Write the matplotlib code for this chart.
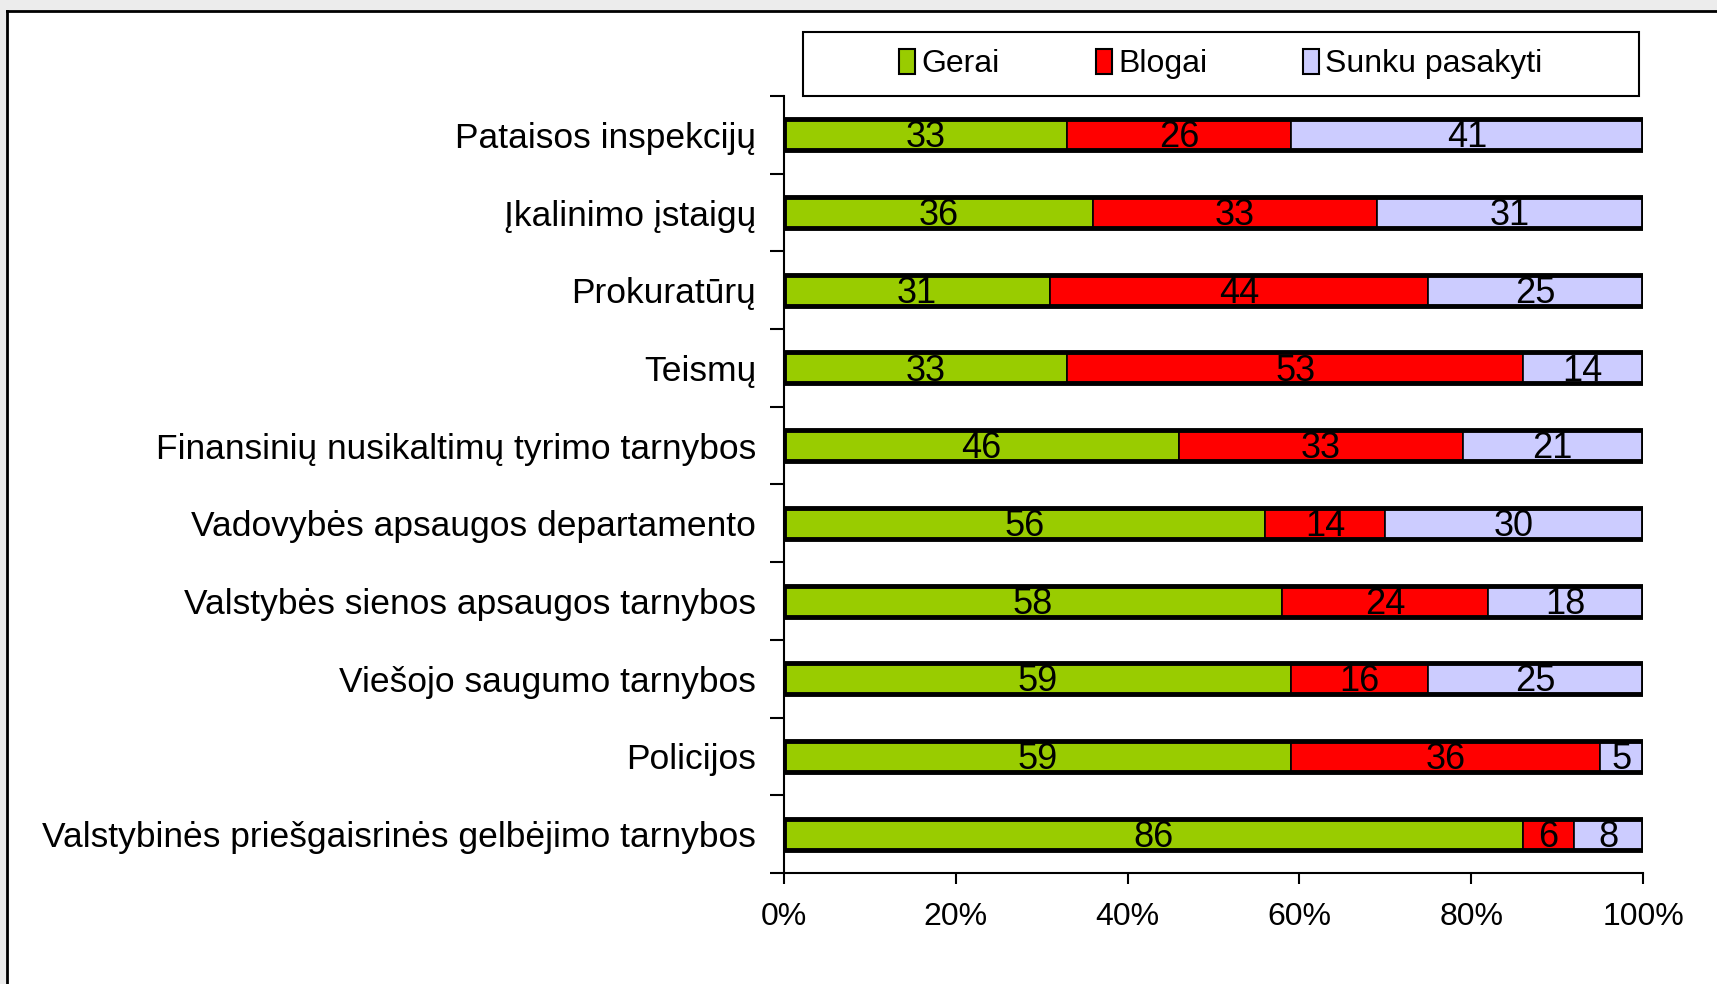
import matplotlib
matplotlib.use("Agg")
import matplotlib.pyplot as plt
from matplotlib.lines import Line2D
from matplotlib.patches import Rectangle, Patch
from matplotlib.ticker import FixedLocator, PercentFormatter
import numpy as np

categories = [
    "Pataisos inspekcijų",
    "Įkalinimo įstaigų",
    "Prokuratūrų",
    "Teismų",
    "Finansinių nusikaltimų tyrimo tarnybos",
    "Vadovybės apsaugos departamento",
    "Valstybės sienos apsaugos tarnybos",
    "Viešojo saugumo tarnybos",
    "Policijos",
    "Valstybinės priešgaisrinės gelbėjimo tarnybos",
]
gerai = [33, 36, 31, 33, 46, 56, 58, 59, 59, 86]
blogai = [26, 33, 44, 53, 33, 14, 24, 16, 36, 6]
sunku = [41, 31, 25, 14, 21, 30, 18, 25, 5, 8]
series_names = ["Gerai", "Blogai", "Sunku pasakyti"]
colors = ["#99cc00", "#ff0000", "#ccccff"]

plt.rcParams["font.family"] = ["Liberation Sans Narrow", "Liberation Sans", "DejaVu Sans"]

W, H = 1717, 984
fig = plt.figure(figsize=(W / 100, H / 100), dpi=100, facecolor="#ececec")

# белая "рамка" слайда с чёрной линией сверху и слева
fx, fy = 7 / W, 1 - 11 / H
fig.patches.append(Rectangle((fx, 0), 1 - fx, fy, transform=fig.transFigure,
                             facecolor="white", edgecolor="none", zorder=-5))
fig.lines.append(Line2D([fx, 1], [fy, fy], transform=fig.transFigure, color="black", lw=2, zorder=-4))
fig.lines.append(Line2D([fx, fx], [0, fy], transform=fig.transFigure, color="black", lw=2, zorder=-4))
# рамка легенды
fig.patches.append(Rectangle((803 / W, 888 / H), (1639 - 803) / W, 64 / H,
                             transform=fig.transFigure, facecolor="white",
                             edgecolor="black", linewidth=1.5, zorder=-3))

ax = fig.add_axes([784 / W, 111 / H, (1643 - 784) / W, (888 - 111) / H])
ax.set_facecolor("none")

y = np.arange(len(categories))
left = np.zeros(len(categories))
for vals, col in zip([gerai, blogai, sunku], colors):
    vals = np.array(vals)
    bars = ax.barh(y, vals, left=left, height=0.4, color=col,
                   edgecolor="black", linewidth=1.2, zorder=2)
    for b, v in zip(bars, vals):
        ax.text(b.get_x() + b.get_width() / 2, b.get_y() + b.get_height() / 2 + 0.04,
                str(v), ha="center", va="center", fontsize=26, color="black", zorder=4)
    left += vals
# общий толстый контур каждой полосы
ax.barh(y, left, height=0.4, fill=False, edgecolor="black", linewidth=3.5, zorder=3)

ax.set_ylim(len(categories) - 0.5, -0.5)
ax.set_xlim(0, 100)
ax.set_yticks(y)
ax.set_yticklabels(categories, fontsize=25.5)
ax.yaxis.set_minor_locator(FixedLocator(np.arange(-0.5, len(categories), 1)))
ax.tick_params(axis="y", which="major", length=0, pad=20)
ax.tick_params(axis="y", which="minor", length=10, width=1.5, direction="out")
ax.set_xticks(np.arange(0, 101, 20))
ax.xaxis.set_major_formatter(PercentFormatter(decimals=0))
ax.tick_params(axis="x", length=8, width=1.5, direction="out", labelsize=23, pad=13)
for s in ["top", "right"]:
    ax.spines[s].set_visible(False)
for s in ["left", "bottom"]:
    ax.spines[s].set_linewidth(1.5)

handles = [Patch(facecolor=c, edgecolor="black", linewidth=1.5) for c in colors]
leg = fig.legend(handles, series_names, loc="center", ncol=3,
                 bbox_to_anchor=(803 / W, 888 / H, (1639 - 803) / W, 64 / H),
                 fontsize=23, frameon=False, handlelength=0.5, handleheight=0.85,
                 handletextpad=0.2, columnspacing=3.0)

fig.savefig("out.png", dpi=100, facecolor=fig.get_facecolor())
